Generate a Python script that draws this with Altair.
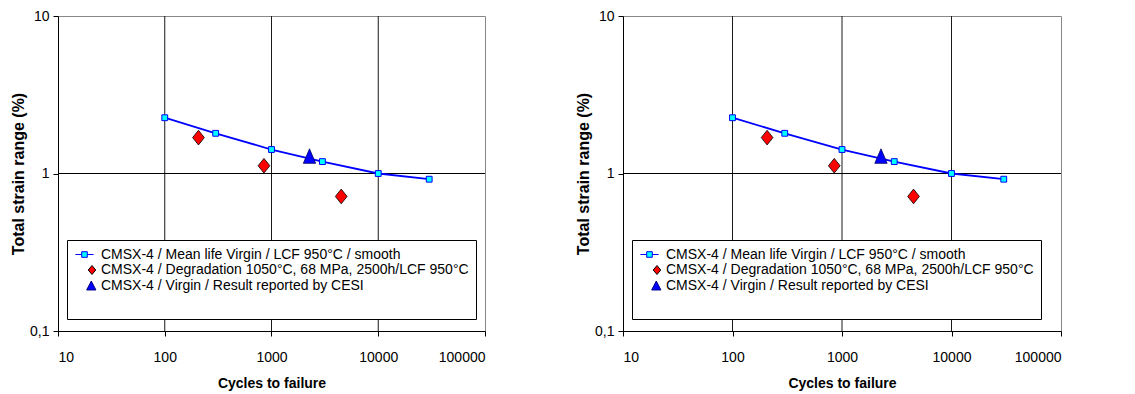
import altair as alt
import pandas as pd

# ---- data ----
series = [
    "CMSX-4 / Mean life Virgin / LCF 950°C / smooth",
    "CMSX-4 / Degradation 1050°C, 68 MPa, 2500h/LCF 950°C",
    "CMSX-4 / Virgin / Result reported by CESI",
]
mean_cycles = [100, 300, 1000, 3000, 10000, 30000]
mean_strain = [2.26, 1.80, 1.42, 1.19, 1.0, 0.92]
deg_cycles = [207, 850, 4500]
deg_strain = [1.69, 1.12, 0.715]
cesi_cycles = [2270]
cesi_strain = [1.29]
x_ticks = [10, 100, 1000, 10000, 100000]
y_ticks = [0.1, 1, 10]
x_grid = [100, 1000, 10000]
y_grid = [1]

FONT = "Liberation Sans, Arial, sans-serif"

# marker shapes
diamond_path = "M0,-1L0.8,0L0,1L-0.8,0Z"
triangle_path = "M0,-1L0.85,1L-0.85,1Z"
legend_paths = [
    "M-1.3,0H-0.4M0.4,0H1.3M-0.4,-0.4H0.4V0.4H-0.4Z",
    "M1.07,-0.64L1.61,0L1.07,0.64L0.53,0Z",
    "M0.97,-0.64L1.63,0.64L0.31,0.64Z",
]
fills = ["#00FFFF", "#FF0000", "#0000FF"]
strokes = ["#0000FF", "#000000", "#000080"]

mean_df = pd.DataFrame({"cycles": mean_cycles, "strain": mean_strain})
deg_df = pd.DataFrame({"cycles": deg_cycles, "strain": deg_strain})
cesi_df = pd.DataFrame({"cycles": cesi_cycles, "strain": cesi_strain})
vgrid_df = pd.DataFrame({"cycles": x_grid})
hgrid_df = pd.DataFrame({"strain": y_grid})
legend_df = pd.DataFrame({"series": series})


def panel(width, height):
    X = alt.X(
        "cycles:Q",
        scale=alt.Scale(type="log", domain=[10, 100000], nice=False),
        axis=alt.Axis(
            values=x_ticks, format="d", grid=False, title="Cycles to failure",
            tickSize=5, labelPadding=14, titlePadding=12,
        ),
    )
    Y = alt.Y(
        "strain:Q",
        scale=alt.Scale(type="log", domain=[0.1, 10], nice=False),
        axis=alt.Axis(
            values=y_ticks, grid=False, title="Total strain range (%)",
            labelExpr="replace(format(datum.value, '~g'), '.', ',')",
            tickSize=5, labelPadding=4, titlePadding=3, titleFontSize=16,
        ),
    )
    vgrid = alt.Chart(vgrid_df).mark_rule(color="#1a1a1a", strokeWidth=1).encode(x=X)
    hgrid = alt.Chart(hgrid_df).mark_rule(color="#000000", strokeWidth=1).encode(y=Y)
    line = alt.Chart(mean_df).mark_line(color="#0000FF", strokeWidth=1.8).encode(x=X, y=Y)
    squares = alt.Chart(mean_df).mark_point(
        shape="square", filled=True, fill="#00FFFF", stroke="#0000FF",
        strokeWidth=1, size=34, opacity=1,
    ).encode(x=X, y=Y)
    diamonds = alt.Chart(deg_df).mark_point(
        shape=diamond_path, filled=True, fill="#FF0000", stroke="#000000",
        strokeWidth=0.8, size=215, opacity=1,
    ).encode(x=X, y=Y)
    tri = alt.Chart(cesi_df).mark_point(
        shape=triangle_path, filled=True, fill="#0000FF", stroke="#000060",
        strokeWidth=0.8, size=210, opacity=1,
    ).encode(x=X, y=Y)

    leg = alt.Legend(
        orient="none", legendX=9, legendY=224, direction="vertical",
        title=" ", titleOrient="bottom", titleFontSize=11, titlePadding=8,
        labelFont=FONT, labelFontSize=14, labelColor="#000000", labelLimit=800,
        symbolSize=196, symbolStrokeWidth=1, symbolOpacity=1, symbolOffset=3,
        padding=7, rowPadding=0.5, labelOffset=9,
        strokeColor="#000000", fillColor="#FFFFFF",
    )
    legend_layer = alt.Chart(legend_df).mark_point(
        filled=True, strokeWidth=1, opacity=1
    ).encode(
        shape=alt.Shape("series:N", scale=alt.Scale(domain=series, range=legend_paths), legend=leg),
        fill=alt.Fill("series:N", scale=alt.Scale(domain=series, range=fills), legend=leg),
        stroke=alt.Stroke("series:N", scale=alt.Scale(domain=series, range=strokes), legend=leg),
    ).transform_filter("false")

    return alt.layer(vgrid, hgrid, line, squares, diamonds, tri, legend_layer).properties(
        width=width, height=height
    )


left = panel(427, 315)
right = panel(438, 315)

chart = (
    alt.hconcat(left, right, spacing=89)
    .resolve_scale(shape="independent", fill="independent", stroke="independent")
    .resolve_legend(shape="independent", fill="independent", stroke="independent")
    .properties(padding={"left": 10, "top": 8, "right": 0, "bottom": 0})
    .configure(background="#FFFFFF")
    .configure_view(stroke="#888888", strokeWidth=1)
    .configure_axis(
        domainColor="#000000", tickColor="#000000", labelColor="#000000",
        titleColor="#000000", labelFont=FONT, titleFont=FONT,
        labelFontSize=14, titleFontSize=14, titleFontWeight="bold",
        domainWidth=1, tickWidth=1,
    )
)

chart.save("out.html", embed_options={"renderer": "svg", "actions": False})
